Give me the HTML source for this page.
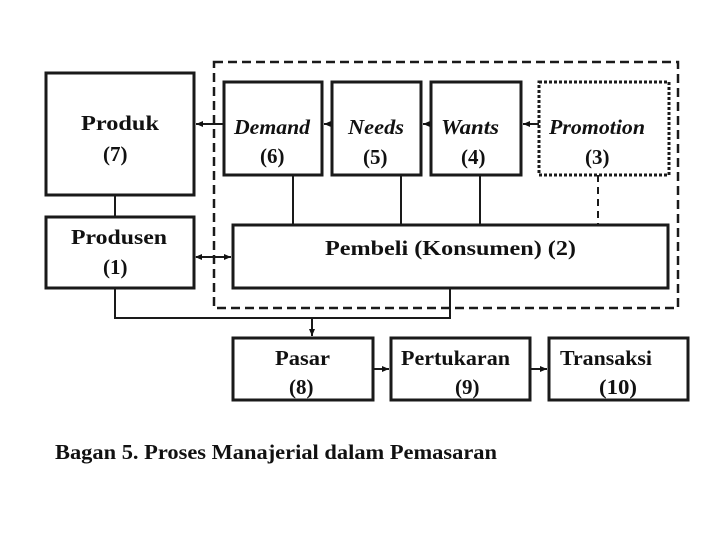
<!DOCTYPE html>
<html><head><meta charset="utf-8"><style>
html,body{margin:0;padding:0;background:#fff;width:720px;height:540px;overflow:hidden}
svg text{font-family:"Liberation Serif",serif;font-weight:bold;fill:#111}
</style></head><body>
<svg width="720" height="540" viewBox="0 0 720 540" xmlns="http://www.w3.org/2000/svg">
<defs>
<marker id="ah" markerWidth="8" markerHeight="8" refX="7" refY="4" orient="auto" markerUnits="userSpaceOnUse">
<path d="M0,1 L7,4 L0,7 Z" fill="#111"/></marker>
<marker id="as" markerWidth="8" markerHeight="8" refX="1" refY="4" orient="auto" markerUnits="userSpaceOnUse">
<path d="M7,1 L0,4 L7,7 Z" fill="#111"/></marker>
</defs>
<g fill="none" stroke="#1a1a1a">
<rect x="214" y="62" width="464" height="246" stroke-width="2.5" stroke-dasharray="9,5"/>
<rect x="46" y="73" width="148" height="122" stroke-width="3"/>
<rect x="46" y="217" width="148" height="71" stroke-width="3"/>
<rect x="224" y="82" width="98" height="93" stroke-width="3"/>
<rect x="332" y="82" width="89" height="93" stroke-width="3"/>
<rect x="431" y="82" width="90" height="93" stroke-width="3"/>
<rect x="539" y="82" width="130" height="93" stroke-width="3" stroke-dasharray="3,2"/>
<rect x="233" y="225" width="435" height="63" stroke-width="3"/>
<rect x="233" y="338" width="140" height="62" stroke-width="3"/>
<rect x="391" y="338" width="139" height="62" stroke-width="3"/>
<rect x="549" y="338" width="139" height="62" stroke-width="3"/>
<g stroke-width="2">
<line x1="115" y1="195" x2="115" y2="217"/>
<line x1="224" y1="124" x2="196" y2="124" marker-end="url(#ah)"/>
<line x1="332" y1="124" x2="324" y2="124" marker-end="url(#ah)"/>
<line x1="431" y1="124" x2="423" y2="124" marker-end="url(#ah)"/>
<line x1="539" y1="124" x2="523" y2="124" marker-end="url(#ah)"/>
<line x1="293" y1="175" x2="293" y2="225"/>
<line x1="401" y1="175" x2="401" y2="225"/>
<line x1="480" y1="175" x2="480" y2="225"/>
<line x1="598" y1="175" x2="598" y2="225" stroke-dasharray="7,5"/>
<line x1="196" y1="257" x2="231" y2="257" marker-start="url(#as)" marker-end="url(#ah)"/>
<polyline points="115,288 115,318 450,318 450,288"/>
<line x1="312" y1="318" x2="312" y2="336" marker-end="url(#ah)"/>
<line x1="373" y1="369" x2="389" y2="369" marker-end="url(#ah)"/>
<line x1="530" y1="369" x2="547" y2="369" marker-end="url(#ah)"/>
</g></g>
<g font-size="21">
<text x="81" y="130" textLength="78" lengthAdjust="spacingAndGlyphs">Produk</text>
<text x="103" y="161">(7)</text>
<text x="71" y="244" textLength="96" lengthAdjust="spacingAndGlyphs">Produsen</text>
<text x="103" y="274">(1)</text>
<text x="234" y="134" font-style="italic" font-weight="normal" textLength="76" lengthAdjust="spacingAndGlyphs">Demand</text>
<text x="260" y="163">(6)</text>
<text x="348" y="134" font-style="italic" font-weight="normal" textLength="56" lengthAdjust="spacingAndGlyphs">Needs</text>
<text x="363" y="164">(5)</text>
<text x="441" y="134" font-style="italic" font-weight="normal" textLength="58" lengthAdjust="spacingAndGlyphs">Wants</text>
<text x="461" y="164">(4)</text>
<text x="549" y="134" font-style="italic" font-weight="normal" textLength="96" lengthAdjust="spacingAndGlyphs">Promotion</text>
<text x="585" y="164">(3)</text>
<text x="325" y="255" textLength="251" lengthAdjust="spacingAndGlyphs">Pembeli (Konsumen) (2)</text>
<text x="275" y="365" textLength="55" lengthAdjust="spacingAndGlyphs">Pasar</text>
<text x="289" y="394">(8)</text>
<text x="401" y="365" textLength="109" lengthAdjust="spacingAndGlyphs">Pertukaran</text>
<text x="455" y="394">(9)</text>
<text x="560" y="365" textLength="92" lengthAdjust="spacingAndGlyphs">Transaksi</text>
<text x="599" y="394" textLength="38" lengthAdjust="spacingAndGlyphs">(10)</text>
</g>
<text x="55" y="459" font-size="21" textLength="442" lengthAdjust="spacingAndGlyphs">Bagan  5.  Proses Manajerial dalam Pemasaran</text>
</svg>
</body></html>
